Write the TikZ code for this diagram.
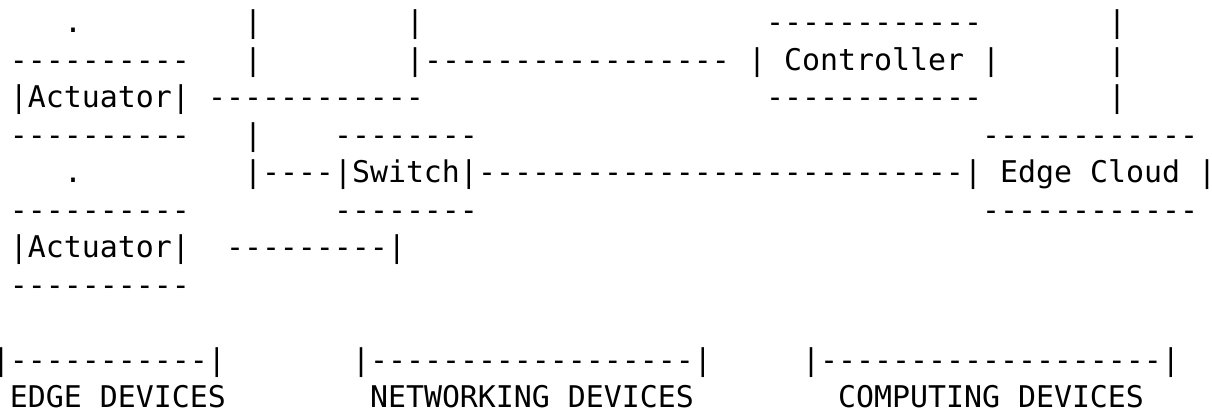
\documentclass[tikz,border=0pt]{standalone}
\usepackage{fontspec}
\setmonofont{DejaVu Sans Mono}
\tikzset{tok/.style={anchor=base west, inner sep=0pt, outer sep=0pt,
  font=\ttfamily\fontsize{14.95pt}{18pt}\selectfont, text=black}}
\newcommand{\tk}[4]{\node[tok] (#1) at ({9pt*#2-4pt},{-18.75pt*#3+2.5pt}) {#4};}
\newcommand{\dsh}[1]{\foreach\i in {1,...,#1}{-}}
\begin{document}
\begin{tikzpicture}
\useasboundingbox[fill=white] (0pt,0pt) rectangle (606pt,-209pt);
% line 1
\tk{dot1}{4}{1}{.}
\tk{busA1}{14}{1}{|}
\tk{busB1}{23}{1}{|}
\tk{ctrlT}{43}{1}{\dsh{12}}
\tk{busC1}{62}{1}{|}
% line 2
\tk{actOneT}{1}{2}{\dsh{10}}
\tk{busA2}{14}{2}{|}
\tk{busB2}{23}{2}{|}
\tk{ctrlL}{24}{2}{\dsh{17}}
\tk{ctrlLB}{42}{2}{|}
\tk{ctrl}{44}{2}{Controller}
\tk{ctrlRB}{55}{2}{|}
\tk{busC2}{62}{2}{|}
% line 3
\tk{actOne}{1}{3}{|Actuator|}
\tk{actOneL}{12}{3}{\dsh{12}}
\tk{ctrlB}{43}{3}{\dsh{12}}
\tk{busC3}{62}{3}{|}
% line 4
\tk{actOneB}{1}{4}{\dsh{10}}
\tk{busA4}{14}{4}{|}
\tk{swT}{19}{4}{\dsh{8}}
\tk{ecT}{55}{4}{\dsh{12}}
% line 5
\tk{dot2}{4}{5}{.}
\tk{busA5}{14}{5}{|}
\tk{swL}{15}{5}{\dsh{4}}
\tk{sw}{19}{5}{|Switch|}
\tk{swR}{27}{5}{\dsh{27}}
\tk{ecLB}{54}{5}{|}
\tk{ec}{56}{5}{Edge Cloud}
\tk{ecRB}{67}{5}{|}
% line 6
\tk{actTwoT}{1}{6}{\dsh{10}}
\tk{swB}{19}{6}{\dsh{8}}
\tk{ecB}{55}{6}{\dsh{12}}
% line 7
\tk{actTwo}{1}{7}{|Actuator|}
\tk{actTwoL}{13}{7}{\dsh{9}|}
% line 8
\tk{actTwoB}{1}{8}{\dsh{10}}
% line 10
\tk{brE}{0}{10}{|\dsh{11}|}
\tk{brN}{20}{10}{|\dsh{18}|}
\tk{brC}{45}{10}{|\dsh{19}|}
% line 11
\tk{lbE}{1}{11}{EDGE DEVICES}
\tk{lbN}{21}{11}{NETWORKING DEVICES}
\tk{lbC}{47}{11}{COMPUTING DEVICES}
\end{tikzpicture}
\end{document}
